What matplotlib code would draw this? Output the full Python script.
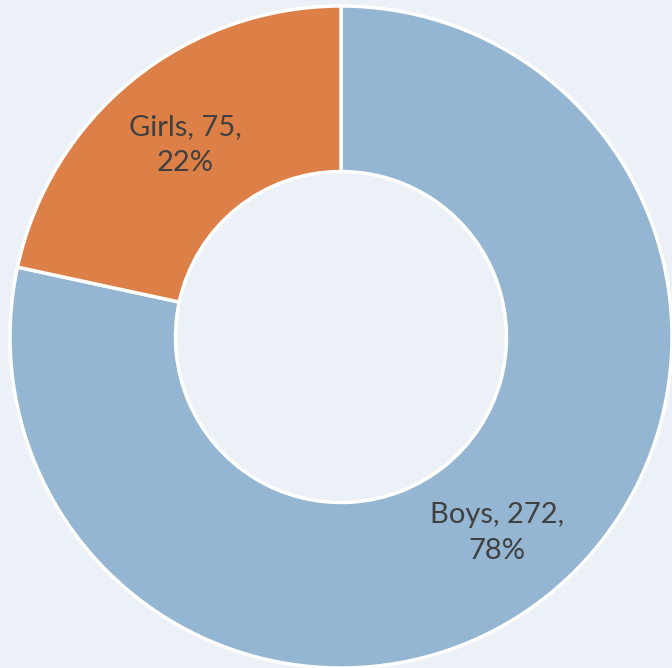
import matplotlib.pyplot as plt

labels = ["Boys", "Girls"]
counts = [272, 75]
colors = ["#94B6D2", "#DD8047"]
bg = "#ECF0F7"

# where the data labels sit, in data units of the pie
label_pos = {"Boys": (0.472, -0.592), "Girls": (-0.471, 0.58)}

fig = plt.figure(figsize=(6.72, 6.68), dpi=100)
fig.patch.set_facecolor(bg)
ax = fig.add_axes([10 / 672, 0, 662 / 672, 662 / 668])
ax.set_facecolor(bg)

ax.pie(counts, colors=colors, startangle=90, counterclock=False,
       radius=1, wedgeprops=dict(width=0.5, edgecolor="white", linewidth=2.5))

total = sum(counts)
for name, n in zip(labels, counts):
    x, y = label_pos[name]
    ax.text(x, y, f"{name}, {n},\n{round(100 * n / total)}%", ha="center", va="center",
            fontsize=21, color="#404040", family=["Lato", "DejaVu Sans"], linespacing=1.45)

ax.set_xlim(-1, 1)
ax.set_ylim(-1, 1)
ax.set_aspect("equal")
ax.axis("off")

plt.savefig("out.png", facecolor=bg)
